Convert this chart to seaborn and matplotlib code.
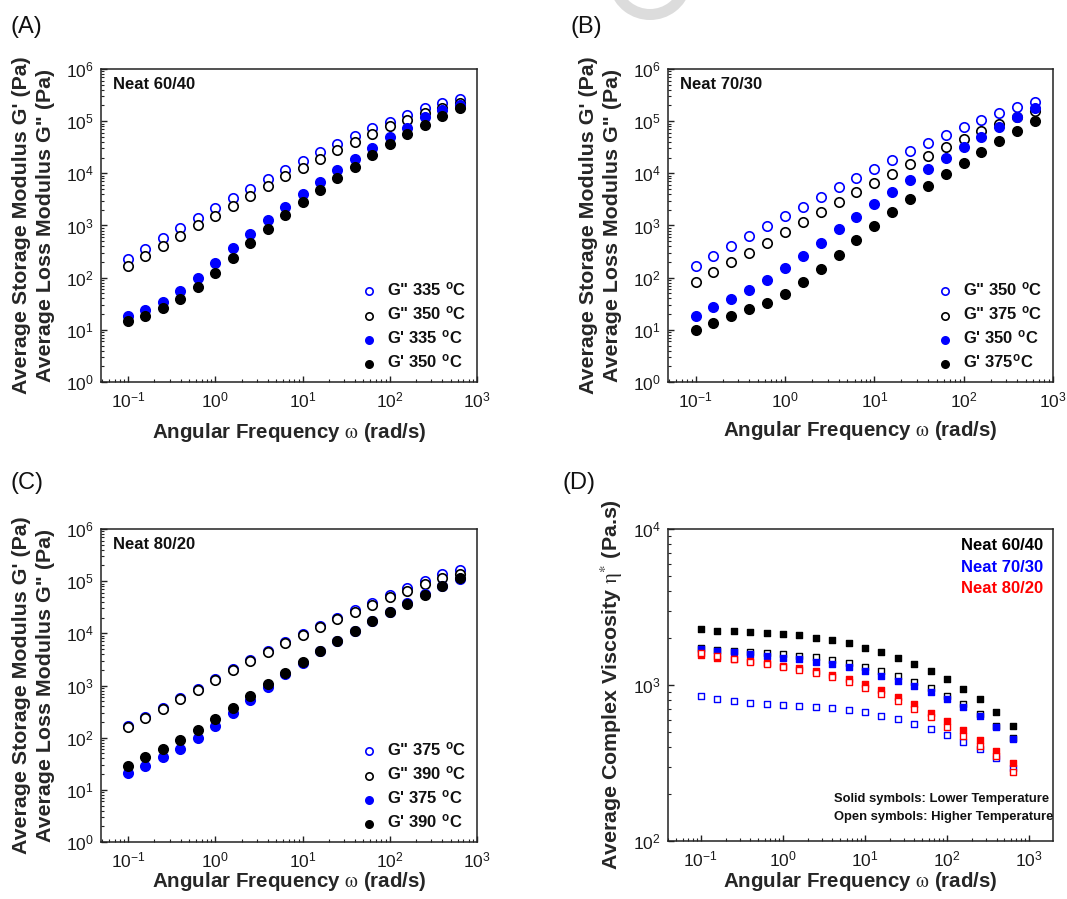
import matplotlib
matplotlib.use("Agg")
import matplotlib.pyplot as plt
import seaborn as sns
from matplotlib.ticker import LogLocator, NullFormatter
from matplotlib.patches import Wedge
from matplotlib.transforms import IdentityTransform

# Angular frequency sweep (rad/s), 5 points per decade
omega = [0.1, 0.158, 0.251, 0.398, 0.631, 1.0, 1.58, 2.51, 3.98, 6.31,
         10.0, 15.8, 25.1, 39.8, 63.1, 100.0, 158.0, 251.0, 398.0, 631.0]

# (A) Neat 60/40
a_g2_335 = [229, 355, 570, 887, 1380, 2140, 3310, 5010, 7760, 11700,
            17400, 25100, 36300, 52500, 72400, 97700, 132000, 178000, 219000, 263000]
a_g2_350 = [168, 262, 406, 631, 1000, 1550, 2400, 3720, 5750, 8710,
            12900, 19100, 27500, 39800, 56200, 79400, 105000, 141000, 182000, 219000]
a_g1_335 = [18.5, 24.2, 33.9, 55.8, 100, 189, 366, 692, 1280, 2310,
            4030, 6950, 11600, 18900, 31100, 49000, 75200, 119000, 164000, 204000]
a_g1_350 = [14.5, 18.5, 26.0, 38.6, 65.6, 125, 243, 471, 861, 1570,
            2790, 4810, 8040, 13500, 22500, 36100, 56900, 84500, 128000, 182000]
a_labels = ['G" 335 $^{\\mathdefault{o}}$C', 'G" 350 $^{\\mathdefault{o}}$C',
            "G' 335 $^{\\mathdefault{o}}$C", "G' 350 $^{\\mathdefault{o}}$C"]

# (B) Neat 70/30
b_g2_350 = [171, 262, 406, 631, 982, 1530, 2310, 3530, 5410, 8170,
            12300, 18100, 26500, 38200, 54500, 76200, 105000, 142000, 185000, 233000]
b_g2_375 = [84.3, 129, 198, 303, 471, 743, 1170, 1820, 2830, 4340,
            6640, 9890, 14900, 21900, 32100, 45600, 64900, 89700, 122000, 157000]
b_g1_350 = [18.5, 26.8, 38.6, 58.3, 90.8, 152, 265, 471, 847, 1480,
            2590, 4410, 7480, 12100, 19500, 31600, 50600, 78500, 119000, 176000]
b_g1_375 = [9.86, 13.4, 18.5, 25.2, 33.4, 49.0, 81.8, 145, 274, 530,
            998, 1850, 3280, 5730, 9590, 16100, 26100, 41800, 65900, 101000]
b_labels = ['G" 350 $^{\\mathdefault{o}}$C', 'G" 375 $^{\\mathdefault{o}}$C',
            "G' 350 $^{\\mathdefault{o}}$C", "G' 375$^{\\mathdefault{o}}$C"]

# (C) Neat 80/20
c_g2_375 = [166, 245, 376, 575, 871, 1330, 2040, 3090, 4570, 6760,
            9770, 13800, 20000, 27500, 38000, 55000, 74100, 102000, 135000, 162000]
c_g2_390 = [158, 236, 361, 553, 836, 1280, 1960, 2960, 4410, 6460,
            9310, 13300, 18900, 26100, 35500, 49800, 65900, 88300, 117000, 137000]
c_g1_375 = [20.8, 29.2, 41.7, 61.9, 99.1, 171, 303, 530, 955, 1670,
            2750, 4530, 7260, 11300, 17300, 25400, 37700, 56900, 80900, 110000]
c_g1_390 = [28.8, 42.3, 61.9, 90.8, 141, 226, 378, 631, 1070, 1770,
            2880, 4600, 7260, 11300, 17300, 25400, 37200, 54500, 80900, 114000]
c_labels = ['G" 375 $^{\\mathdefault{o}}$C', 'G" 390 $^{\\mathdefault{o}}$C',
            "G' 375 $^{\\mathdefault{o}}$C", "G' 390 $^{\\mathdefault{o}}$C"]

# (D) complex viscosity, lower (solid) and higher (open) temperature
eta_6040_low = [2275, 2228, 2218, 2187, 2170, 2133, 2094, 2009, 1935, 1851,
                1726, 1621, 1490, 1370, 1231, 1093, 946, 809, 674, 546]
eta_6040_high = [1719, 1676, 1651, 1618, 1596, 1573, 1542, 1504, 1445, 1377,
                 1312, 1225, 1138, 1045, 952, 849, 751, 652, 545, 455]
eta_7030_low = [1702, 1660, 1618, 1573, 1535, 1497, 1461, 1413, 1358, 1298,
                1231, 1148, 1067, 986, 898, 809, 723, 630, 541, 453]
eta_7030_high = [855, 817, 794, 770, 751, 741, 733, 723, 708, 692,
                 668, 636, 603, 562, 522, 478, 433, 387, 339, 292]
eta_8020_low = [1557, 1496, 1461, 1426, 1377, 1324, 1280, 1225, 1159, 1093,
                1009, 929, 841, 751, 665, 588, 515, 444, 379, 318]
eta_8020_high = [1611, 1542, 1461, 1397, 1358, 1304, 1253, 1194, 1119, 1045,
                 962, 876, 789, 701, 621, 541, 471, 406, 349, 278]
blend_names = ["Neat 60/40", "Neat 70/30", "Neat 80/20"]
blend_colors = ["black", "#0000ff", "#ff0000"]

sns.set_style("ticks")
plt.rcParams.update({
    "font.family": ["Liberation Sans", "DejaVu Sans"],
    "mathtext.fontset": "stix",
    "axes.linewidth": 1.1,
    "axes.edgecolor": "#222222",
    "xtick.direction": "in",
    "ytick.direction": "in",
    "xtick.color": "#222222",
    "ytick.color": "#222222",
    "xtick.labelcolor": "#1a1a1a",
    "ytick.labelcolor": "#1a1a1a",
    "xtick.major.size": 4.0,
    "ytick.major.size": 4.0,
    "xtick.minor.size": 2.2,
    "ytick.minor.size": 2.2,
    "xtick.major.width": 1.0,
    "ytick.major.width": 1.0,
    "xtick.minor.width": 0.8,
    "ytick.minor.width": 0.8,
    "xtick.labelsize": 12.5,
    "ytick.labelsize": 12.5,
    "text.color": "#111111",
})

W, H = 1067, 899
fig = plt.figure(figsize=(W / 100, H / 100), dpi=100)


def px_axes(left, top, right, bottom):
    return fig.add_axes([left / W, 1 - bottom / H, (right - left) / W, (bottom - top) / H])


xlabel = "Angular Frequency $\\mathrm{\\omega}$ (rad/s)"
mod_ylabel = "Average Storage Modulus G' (Pa)\nAverage Loss Modulus G\" (Pa)"
LABEL_SIZE = 14.8


def style_log_axes(ax, xlim, ylim):
    ax.set_xscale("log")
    ax.set_yscale("log")
    ax.set_xlim(*xlim)
    ax.set_ylim(*ylim)
    for ax_ in (ax.xaxis, ax.yaxis):
        ax_.set_major_locator(LogLocator(base=10, numticks=20))
        ax_.set_minor_locator(LogLocator(base=10, subs=range(2, 10), numticks=100))
        ax_.set_minor_formatter(NullFormatter())
    ax.tick_params(which="both", top=False, right=False)
    ax.tick_params(axis="x", which="major", pad=6)
    ax.tick_params(axis="y", which="major", pad=5)
    for s in ax.spines.values():
        s.set_visible(True)


def modulus_panel(ax, name, series, labels):
    style_log_axes(ax, (10 ** -1.31, 1000), (1, 1e6))
    styles = [("white", "#0000ff"), ("white", "black"), ("#0000ff", "#0000ff"), ("black", "black")]
    for vals, lab, (fc, ec) in zip(series, labels, styles):
        sns.scatterplot(x=omega, y=vals, ax=ax, marker="o", s=46,
                        facecolor=fc, edgecolor=ec, linewidth=1.2,
                        label=lab, zorder=3, clip_on=False)
    ax.text(0.032, 0.952, name, transform=ax.transAxes, fontsize=12,
            fontweight="bold", ha="left", va="center")
    ax.legend(loc="lower right", frameon=False,
              prop={"weight": "bold", "size": 12},
              markerscale=0.78, handlelength=1.0, handletextpad=0.55,
              labelspacing=0.36, borderaxespad=0.25, borderpad=0.4)
    ax.set_xlabel(xlabel, fontsize=LABEL_SIZE, fontweight="bold")
    ax.set_ylabel(mod_ylabel, fontsize=LABEL_SIZE + 0.6, fontweight="bold", linespacing=1.35)
    ax.xaxis.label.set_va("center")
    ax.yaxis.label.set_va("center")


axA = px_axes(101, 69, 477, 382)
modulus_panel(axA, "Neat 60/40", [a_g2_335, a_g2_350, a_g1_335, a_g1_350], a_labels)
axA.xaxis.set_label_coords(0.5, -0.16)
axA.yaxis.set_label_coords(-0.179, 0.5)

axB = px_axes(668, 69, 1053, 382)
modulus_panel(axB, "Neat 70/30", [b_g2_350, b_g2_375, b_g1_350, b_g1_375], b_labels)
axB.xaxis.set_label_coords(0.5, -0.155)
axB.yaxis.set_label_coords(-0.175, 0.5)

axC = px_axes(101, 529, 477, 842)
modulus_panel(axC, "Neat 80/20", [c_g2_375, c_g2_390, c_g1_375, c_g1_390], c_labels)
axC.xaxis.set_label_coords(0.5, -0.125)
axC.yaxis.set_label_coords(-0.179, 0.5)

# (D) complex viscosity
axD = px_axes(668, 529, 1053, 841)
style_log_axes(axD, (10 ** -1.40, 10 ** 3.29), (100, 1e4))
visc_series = [
    (eta_6040_low, blend_colors[0], True),
    (eta_6040_high, blend_colors[0], False),
    (eta_7030_low, blend_colors[1], True),
    (eta_7030_high, blend_colors[1], False),
    (eta_8020_low, blend_colors[2], True),
    (eta_8020_high, blend_colors[2], False),
]
for vals, col, solid in visc_series:
    sns.scatterplot(x=omega, y=vals, ax=axD, marker="s", s=24,
                    facecolor=col if solid else "white", edgecolor=col,
                    linewidth=1.0, zorder=3)
for i, (name, col) in enumerate(zip(blend_names, blend_colors)):
    axD.text(0.975, 0.947 - i * 0.0695, name, transform=axD.transAxes, color=col,
             fontsize=12, fontweight="bold", ha="right", va="center")
axD.text(0.99, 0.135, "Solid symbols: Lower Temperature", transform=axD.transAxes,
         fontsize=9.4, fontweight="bold", ha="right", va="center")
axD.text(1.0, 0.077, "Open symbols: Higher Temperature", transform=axD.transAxes,
         fontsize=9.4, fontweight="bold", ha="right", va="center")
axD.set_xlabel(xlabel, fontsize=LABEL_SIZE, fontweight="bold")
axD.set_ylabel("Average Complex Viscosity $\\mathrm{\\eta}^{*}$ (Pa.s)",
               fontsize=LABEL_SIZE + 0.6, fontweight="bold")
axD.xaxis.label.set_va("center")
axD.yaxis.label.set_va("center")
axD.xaxis.set_label_coords(0.5, -0.13)
axD.yaxis.set_label_coords(-0.147, 0.5)

# panel letters
for letter, x, y in [("(A)", 11, 27), ("(B)", 571, 27), ("(C)", 11, 483), ("(D)", 562, 483)]:
    fig.text(x / W, 1 - y / H, letter, fontsize=17, ha="left", va="center", color="#111111")

# faint grey ring fragment at the top edge
fig.patches.append(Wedge((650, H + 22), 42, 195, 345, width=11,
                         facecolor="#dcdcdc", edgecolor="none",
                         transform=IdentityTransform(), figure=fig))

fig.savefig("out.png", dpi=100)
